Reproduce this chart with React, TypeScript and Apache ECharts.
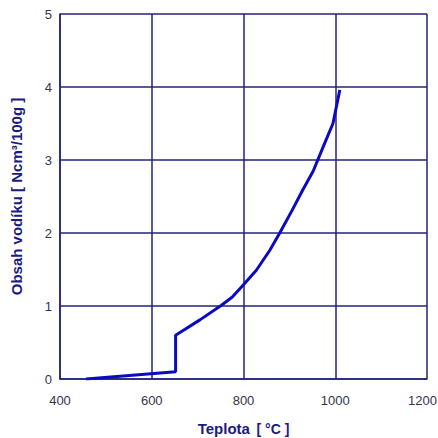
import React, { useEffect, useRef } from "react";
import * as echarts from "echarts";

const temperature = [457, 652, 652, 705, 752, 775, 800, 828, 857, 879, 905, 930, 952, 975, 995, 1010];
const hydrogen = [0, 0.1, 0.6, 0.81, 1.01, 1.12, 1.29, 1.49, 1.76, 2.0, 2.3, 2.6, 2.85, 3.2, 3.5, 3.96];
const xTicks = [400, 600, 800, 1000, 1200];
const yTicks = [0, 1, 2, 3, 4, 5];

const NAVY = "#23237a";

export default function App() {
  const ref = useRef<HTMLDivElement>(null);
  useEffect(() => {
    const chart = echarts.init(ref.current!, null, { renderer: "svg" });
    const data = temperature.map((t, i) => [t, hydrogen[i]]);
    const xMax = xTicks[xTicks.length - 1];
    chart.setOption({
      animation: false,
      backgroundColor: "#ffffff",
      grid: { left: 60, right: 11, top: 14, bottom: 59, containLabel: false, outerBoundsMode: "none" },
      xAxis: {
        type: "value",
        min: xTicks[0],
        max: xMax,
        interval: 200,
        name: "{a|Teplota}  {b|[ °C ]}",
        nameLocation: "middle",
        nameGap: 42,
        nameTextStyle: {
          rich: {
            a: { fontFamily: "Liberation Sans", fontWeight: "bold", fontSize: 15, color: "#1a1a80" },
            b: { fontFamily: "Liberation Sans", fontWeight: "bold", fontSize: 14, color: "#1a1a80" },
          },
        },
        axisLine: { show: true, lineStyle: { color: NAVY, width: 1.5 } },
        axisTick: { show: false },
        axisLabel: {
          color: "#33334d",
          fontFamily: "Liberation Sans",
          fontSize: 13,
          margin: 15,
          formatter: (v: number) => (v === xMax ? `{r|${v}}` : String(v)),
          rich: {
            r: { color: "#33334d", fontFamily: "Liberation Sans", fontSize: 13, padding: [0, 9, 0, 0] },
          },
        },
        splitLine: { show: true, lineStyle: { color: NAVY, width: 1.5 } },
      },
      yAxis: {
        type: "value",
        min: yTicks[0],
        max: yTicks[yTicks.length - 1],
        interval: 1,
        name: "Obsah vodíku [ Ncm³/100g ]",
        nameLocation: "middle",
        nameGap: 36,
        nameTextStyle: { fontFamily: "Liberation Sans", fontWeight: "bold", fontSize: 15, color: "#1a1a80" },
        axisLine: { show: true, lineStyle: { color: NAVY, width: 1.5 } },
        axisTick: { show: false },
        axisLabel: {
          color: "#33334d",
          fontFamily: "Liberation Sans",
          fontSize: 13,
          margin: 8,
          formatter: (v: number) => String(v),
        },
        splitLine: { show: true, lineStyle: { color: NAVY, width: 1.5 } },
      },
      series: [
        {
          type: "line",
          data,
          showSymbol: false,
          symbol: "none",
          lineStyle: { color: "#0a0ac0", width: 3 },
        },
      ],
    });
    return () => chart.dispose();
  }, []);
  return <div ref={ref} style={{ position: "fixed", left: 0, top: 0, width: 438, height: 438 }} />;
}
